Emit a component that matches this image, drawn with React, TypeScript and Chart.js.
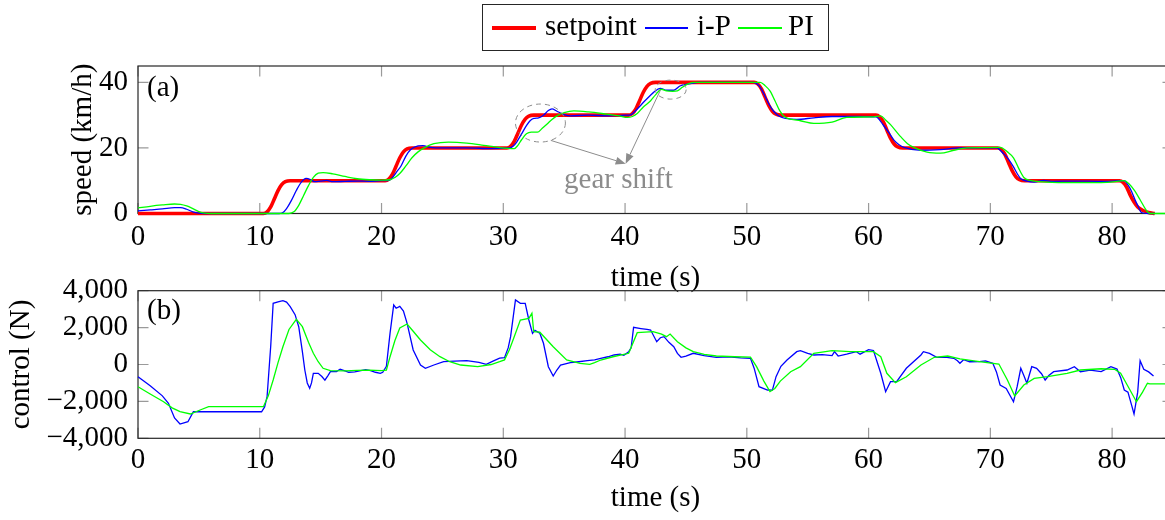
import { useEffect, useRef } from 'react';
import { Chart, registerables } from 'chart.js';

Chart.register(...registerables);

const FONT = "'Liberation Serif', 'Times New Roman', serif";
const GREY = '#8c8c8c';

// ---- tick values ----
const timeTicks = [0, 10, 20, 30, 40, 50, 60, 70, 80];
const speedTicks = [0, 20, 40];
const controlTicks = [-4000, -2000, 0, 2000, 4000];

// ---- labels ----
const legendLabels = ['setpoint', 'i-P', 'PI'];
const panelLabels = ['(a)', '(b)'];
const gearShiftLabel = 'gear shift';
const axisTitles = { time: 'time (s)', speed: 'speed (km/h)', control: 'control (N)' };

// ---- speed (km/h) vs time (s) ----
const setpointSpeed: [number, number][] = [
  [0, 0], [10.3, 0], [10.6, 0.5], [10.9, 2], [11.2, 4.5], [11.5, 7], [11.8, 8.8], [12.1, 9.7], [12.5, 10],
  [20.3, 10], [20.6, 10.5], [20.9, 12], [21.2, 14.5], [21.5, 17], [21.8, 18.8], [22.1, 19.7], [22.5, 20],
  [30.3, 20], [30.6, 20.5], [30.9, 22], [31.2, 24.5], [31.5, 27], [31.8, 28.8], [32.1, 29.7], [32.5, 30],
  [40.3, 30], [40.6, 30.5], [40.9, 32], [41.2, 34.5], [41.5, 37], [41.8, 38.8], [42.1, 39.7], [42.5, 40],
  [50.6, 40], [50.9, 39.5], [51.2, 38], [51.5, 35.5], [51.8, 33], [52.1, 31.2], [52.4, 30.3], [52.8, 30],
  [60.6, 30], [60.9, 29.5], [61.2, 28], [61.5, 25.5], [61.8, 23], [62.1, 21.2], [62.4, 20.3], [62.8, 20],
  [70.6, 20], [70.9, 19.5], [71.2, 18], [71.5, 15.5], [71.8, 13], [72.1, 11.2], [72.4, 10.3], [72.8, 10],
  [80.6, 10], [80.9, 9.5], [81.2, 8], [81.5, 5.5], [81.8, 3.5], [82.1, 2], [82.5, 1], [83, 0.3], [83.5, 0],
];

const ipSpeed: [number, number][] = [
  [0, 0.8], [1, 1.1], [2, 1.4], [3, 1.8], [3.5, 1.8], [4, 1.3], [4.5, 0.5], [5, 0.1], [5.5, 0],
  [11.6, 0], [11.9, 0.3], [12.2, 1.5], [12.6, 4], [13, 7], [13.4, 9.5], [13.8, 10.7], [14.2, 10.3], [14.5, 9.7],
  [15, 9.9], [15.5, 10.1], [16, 9.7], [17, 9.8], [18, 9.9], [19, 9.8], [20, 10], [20.5, 10],
  [20.8, 10.5], [21.2, 12.5], [21.6, 14.5], [22, 17.5], [22.4, 19.5], [23, 20.6], [23.4, 20.7], [24, 20.2],
  [25, 20], [27, 20], [29, 19.8], [30.5, 20],
  [30.8, 20.5], [31.1, 21.8], [31.5, 24.3], [31.9, 26.8], [32.2, 28.3], [32.5, 29], [32.9, 29.2], [33.3, 30],
  [33.7, 31.4], [34, 31.9], [34.4, 31.2], [35, 30.2], [35.5, 29.8], [37, 30], [38.5, 29.8], [40, 30], [40.5, 30.2],
  [40.9, 31.5], [41.4, 33.5], [41.8, 35], [42.3, 36.8], [42.9, 38.2], [43.4, 37.6], [44, 37.6], [44.5, 38.9],
  [45.4, 39.6], [46, 40], [48, 40], [50.5, 40],
  [51, 39], [51.4, 36.5], [51.8, 33.5], [52.2, 31.2], [52.7, 29.6], [53.2, 29], [54.1, 28.7], [55.5, 29.2],
  [57, 29.6], [59, 29.6], [60.6, 29.5],
  [61.2, 27], [61.7, 24.5], [62.1, 22.3], [62.5, 21], [62.9, 20.2], [64.3, 19.3], [65.9, 19.5], [67.5, 20], [70.5, 20],
  [71.1, 18.2], [71.5, 16.5], [71.9, 14.2], [72.2, 12.2], [72.5, 10.6], [73, 9.9], [73.6, 9.6], [74.4, 10.1],
  [75, 9.8], [77, 9.9], [79, 9.8], [81, 10],
  [81.3, 8.7], [81.6, 6.7], [81.9, 4], [82.2, 1.7], [82.4, 0.3], [83, 0], [83.5, 0],
];

const piSpeed: [number, number][] = [
  [0, 1.7], [1, 2.2], [2, 2.6], [3, 2.9], [3.5, 2.8], [4, 2.3], [4.5, 1.5], [5, 0.6], [5.5, 0.1], [6, 0],
  [12.4, 0], [12.8, 0.5], [13.2, 2.5], [13.6, 5.5], [14, 8.5], [14.4, 11], [14.8, 12.3], [15.2, 12.5], [16, 12.1],
  [17, 11.3], [18, 10.6], [19, 10.3], [20, 10.2], [20.7, 10.3],
  [21.1, 11], [21.5, 12.2], [22, 14.5], [22.5, 17], [23, 18.8], [23.5, 20], [24.3, 21.3], [25.5, 21.8], [27, 21.5],
  [28.4, 20.8], [29.7, 20.1], [30.9, 19.8],
  [31.2, 20.8], [31.5, 22.5], [31.9, 24.3], [32.3, 24.8], [32.8, 24.8], [33.2, 26], [33.6, 27.3], [34, 28.7],
  [34.4, 29.8], [35, 30.8], [35.8, 31.3], [37, 31], [38.5, 30.3], [39.5, 29.8], [40.2, 29.3],
  [40.6, 29.6], [41, 30.5], [41.5, 32.5], [42.1, 34.4], [42.5, 36.2], [43, 37.9], [43.4, 37.4], [43.9, 37.3],
  [44.3, 37.4], [44.7, 38.5], [45.1, 39.4], [45.6, 40], [47, 40], [50, 40], [51.1, 40],
  [51.5, 39], [51.9, 37.4], [52.3, 34.5], [52.7, 31.4], [53.1, 29.5], [53.6, 28.8], [54.4, 28.3], [55.5, 27.5],
  [57, 27.9], [58.2, 29.3], [60.4, 29.5], [61, 29.8],
  [61.4, 28.5], [61.8, 27.1], [62.5, 24], [63.2, 21.3], [63.8, 20], [64.8, 18.7], [65.9, 18.4], [67, 19.3],
  [68.1, 20], [70.8, 20.2],
  [71.4, 18.8], [71.9, 17], [72.3, 14], [72.75, 11], [73.3, 10.1], [74.6, 9.6], [76.9, 9.4], [79.6, 9.5], [81, 10],
  [81.4, 9], [81.8, 7.2], [82.3, 4.2], [82.8, 1], [83.1, 0], [85, 0],
];

// ---- control force (N) vs time (s) ----
const ipControl: [number, number][] = [
  [0, -660], [1, -1150], [2, -1700], [2.5, -2100], [3, -2900], [3.45, -3225], [4.1, -3100], [4.55, -2560],
  [5.1, -2560], [10.15, -2560], [10.4, -2300], [10.6, -1745], [10.9, 1000], [11.1, 3317], [11.5, 3400],
  [11.9, 3458], [12.2, 3380], [12.5, 3133], [12.9, 2700], [13.2, 2049], [13.5, 700], [13.7, -298], [13.9, -1000],
  [14.1, -1290], [14.25, -1000], [14.4, -477], [14.8, -480], [15.1, -650], [15.35, -850], [15.6, -600],
  [15.8, -390], [16.3, -380], [16.6, -260], [17, -350], [17.3, -420], [17.8, -400], [18.3, -330], [18.7, -280],
  [19.1, -330], [19.5, -420], [19.9, -480], [20.1, -420], [20.4, -100], [20.7, 1700], [21, 3225], [21.2, 3050],
  [21.5, 3150], [21.8, 2900], [22.1, 2233], [22.6, 786], [23.2, -27], [23.6, -206], [24.3, -27], [25.1, 152],
  [26, 180], [27, 206], [28, 120], [28.6, 10], [29.2, 200], [29.7, 342], [30.1, 370], [30.4, 900], [30.6, 1507],
  [31, 3496], [31.4, 3317], [31.8, 3317], [32.1, 2412], [32.4, 1691], [32.6, 1850], [33, 1691], [33.3, 1149],
  [33.7, -119], [34.1, -623], [34.4, -300], [34.7, -27], [35.5, 98], [36.2, 150], [36.9, 206], [37.5, 250],
  [38, 336], [38.6, 420], [39.1, 515], [39.6, 560], [39.9, 500], [40.3, 694], [40.5, 900], [40.7, 2016],
  [41.3, 1950], [41.8, 1900], [42.1, 1870], [42.6, 1236], [42.9, 1450], [43.2, 1507], [43.6, 1200], [44, 965],
  [44.3, 600], [44.6, 390], [45, 450], [45.6, 607], [46.5, 480], [47.5, 390], [48.5, 420], [49.5, 360],
  [50.3, 336], [50.6, -200], [51, -1203], [51.7, -1382], [52.1, -1390], [52.4, -661], [52.8, -100], [53.3, 244],
  [54.1, 694], [54.4, 748], [55, 600], [55.5, 515], [56.2, 530], [57, 480], [57.2, 700], [57.5, 460], [58.2, 560],
  [59, 694], [59.3, 560], [60, 802], [60.4, 760], [61, -477], [61.4, -1474], [61.8, -932], [62.3, -932],
  [63.1, -206], [64.3, 515], [64.5, 694], [65, 600], [65.6, 390], [66.3, 400], [67, 336], [67.3, 200], [67.5, 65],
  [67.8, 260], [68.3, 150], [69.1, 152], [69.6, 200], [70.2, 65], [70.5, -400], [70.8, -1111], [71.3, -1300],
  [71.9, -2016], [72.2, -1200], [72.5, -206], [72.75, -600], [73, -1019], [73.4, -119], [73.8, -206],
  [74.2, -500], [74.5, -840], [74.8, -600], [75.2, -390], [76.3, -298], [76.9, -119], [77.4, -390], [78.2, -300],
  [79.1, -390], [79.9, -119], [80.4, -250], [80.7, -700], [81, -1382], [81.3, -1500], [81.6, -2200],
  [81.8, -2683], [82.1, -1500], [82.3, 206], [82.6, -260], [83, -400], [83.4, -623],
];

const piControl: [number, number][] = [
  [0, -1203], [1, -1600], [2.1, -2016], [2.8, -2350], [3.45, -2558], [4.3, -2683], [5.1, -2466], [5.8, -2287],
  [10.3, -2287], [10.7, -1700], [11.1, -840], [11.5, 100], [11.9, 965], [12.4, 1900], [13, 2450], [13.5, 2049],
  [14, 1200], [14.4, 607], [14.8, 150], [15.2, -206], [15.8, -330], [17, -350], [18, -320], [19, -300],
  [20, -330], [20.4, -300], [20.7, 423], [21.1, 1300], [21.5, 1980], [22.1, 2195], [22.6, 1800], [23.2, 1328],
  [24, 800], [24.8, 423], [25.6, 150], [26.5, -27], [27.9, -119], [29, 0], [29.7, 152], [30.1, 250], [30.5, 800],
  [30.8, 1328], [31.4, 2412], [32.1, 2504], [32.35, 2775], [32.5, 1778], [33, 1750], [34.1, 965], [35.2, 244],
  [36.3, 65], [37.1, 10], [37.5, 100], [38, 244], [39, 420], [40.3, 607], [41, 1724], [42.3, 1778], [43, 1650],
  [43.4, 1507], [43.7, 1650], [44.3, 1236], [45, 900], [45.6, 694], [46.5, 550], [47.5, 460], [49, 420],
  [50.3, 400], [50.8, -119], [51.4, -900], [51.9, -1474], [52.3, -1300], [52.75, -900], [53.6, -390],
  [54.4, -119], [55.5, 607], [57, 748], [58.5, 694], [60.4, 694], [61, 423], [61.5, -477], [62.2, -986],
  [63.1, -661], [64.3, -27], [65.4, 390], [66.5, 460], [67.5, 300], [69.1, 152], [70.2, 65], [70.7, 27],
  [71.4, -840], [72, -1707], [72.75, -1111], [73.6, -750], [74.7, -661], [76.3, -477], [77.4, -298],
  [79.1, -230], [80.2, -260], [80.7, -477], [81.4, -1300], [82, -2016], [82.5, -1500], [82.9, -1019],
  [83.1, -1050], [85, -1050],
];

// ---- gear-shift annotation, in data units of panel (a) ----
const gearEllipses = [
  { t: 33.05, v: 27.6, rt: 2.05, rv: 5.8 },
  { t: 43.75, v: 37.8, rt: 1.27, rv: 2.9 },
];
const gearArrowTails: [number, number][] = [[33.9, 22.3], [42.9, 37.6]];
const gearArrowTip: [number, number] = [40.05, 15.2];
const gearLabelAt: [number, number] = [39.45, 7.7];

const COLORS = { setpoint: '#ff0000', ip: '#0000ff', pi: '#00ff00' };

const fmtNum = (v: number) => (v < 0 ? '\u2212' : '') + Math.abs(v).toLocaleString('en-US');

const TICK_LEN = 10.5;

function framePlugin(label: string, labelDy: number, gear: boolean) {
  return {
    id: 'frame',
    beforeDatasetsDraw(chart: any) {
      const { ctx, chartArea: a, scales } = chart;
      const x = scales.x;
      const y = scales.y;
      ctx.save();
      ctx.strokeStyle = '#9a9a9a';
      ctx.lineWidth = 1.2;
      ctx.beginPath();
      for (const t of x.ticks) {
        const px = x.getPixelForValue(t.value);
        ctx.moveTo(px, a.top);
        ctx.lineTo(px, a.top + TICK_LEN);
        ctx.moveTo(px, a.bottom);
        ctx.lineTo(px, a.bottom - TICK_LEN);
      }
      for (const t of y.ticks) {
        const py = y.getPixelForValue(t.value);
        ctx.moveTo(a.left, py);
        ctx.lineTo(a.left + TICK_LEN, py);
        ctx.moveTo(a.right, py);
        ctx.lineTo(a.right - TICK_LEN, py);
      }
      ctx.stroke();
      ctx.strokeStyle = '#262626';
      ctx.lineWidth = 1.2;
      ctx.strokeRect(a.left, a.top, a.right - a.left, a.bottom - a.top);
      ctx.restore();
    },
    afterDatasetsDraw(chart: any) {
      const { ctx, chartArea: a, scales } = chart;
      const x = scales.x;
      const y = scales.y;
      ctx.save();
      ctx.font = `29px ${FONT}`;
      ctx.fillStyle = '#000';
      ctx.textAlign = 'left';
      ctx.textBaseline = 'alphabetic';
      ctx.fillText(label, a.left + 9, a.top + labelDy);
      if (gear) {
        ctx.strokeStyle = GREY;
        ctx.fillStyle = GREY;
        ctx.lineWidth = 1;
        ctx.setLineDash([5, 4]);
        for (const e of gearEllipses) {
          const cx = x.getPixelForValue(e.t);
          const cy = y.getPixelForValue(e.v);
          const rx = Math.abs(x.getPixelForValue(e.t + e.rt) - cx);
          const ry = Math.abs(y.getPixelForValue(e.v + e.rv) - cy);
          ctx.beginPath();
          ctx.ellipse(cx, cy, rx, ry, 0, 0, Math.PI * 2);
          ctx.stroke();
        }
        ctx.setLineDash([]);
        const tx = x.getPixelForValue(gearArrowTip[0]);
        const ty = y.getPixelForValue(gearArrowTip[1]);
        for (const [t0, v0] of gearArrowTails) {
          const sx = x.getPixelForValue(t0);
          const sy = y.getPixelForValue(v0);
          const ang = Math.atan2(ty - sy, tx - sx);
          const L = 10;
          const W = 4;
          const bx = tx - L * Math.cos(ang);
          const by = ty - L * Math.sin(ang);
          ctx.beginPath();
          ctx.moveTo(sx, sy);
          ctx.lineTo(bx, by);
          ctx.stroke();
          ctx.beginPath();
          ctx.moveTo(tx, ty);
          ctx.lineTo(bx + W * Math.sin(ang), by - W * Math.cos(ang));
          ctx.lineTo(bx - W * Math.sin(ang), by + W * Math.cos(ang));
          ctx.closePath();
          ctx.fill();
        }
        ctx.textAlign = 'center';
        ctx.fillText(gearShiftLabel, x.getPixelForValue(gearLabelAt[0]), y.getPixelForValue(gearLabelAt[1]));
      }
      ctx.restore();
    },
  };
}

function lineDs(label: string, pts: [number, number][], color: string, width: number, order: number, smooth: boolean) {
  return {
    label,
    data: pts.map(([x, y]) => ({ x, y })),
    borderColor: color,
    backgroundColor: color,
    borderWidth: width,
    pointRadius: 0,
    fill: false,
    order,
    clip: false,
    tension: 0,
    cubicInterpolationMode: smooth ? 'monotone' : 'default',
  };
}

const font29 = { family: FONT, size: 29 };

function xScale(tickPad: number, height: number) {
  return {
    type: 'linear',
    min: 0,
    max: 85,
    afterBuildTicks: (s: any) => {
      s.ticks = timeTicks.map((v) => ({ value: v }));
    },
    afterFit: (s: any) => {
      s.height = height;
    },
    grid: { display: false, drawTicks: false },
    border: { display: false },
    ticks: { padding: tickPad, color: '#000', font: font29, maxRotation: 0, minRotation: 0, autoSkip: false, callback: (v: number) => String(v) },
    title: { display: true, text: axisTitles.time, color: '#000', font: font29, padding: 0 },
  };
}

function yScale(min: number, max: number, ticks: number[], width: number, title: string) {
  return {
    type: 'linear',
    min,
    max,
    afterBuildTicks: (s: any) => {
      s.ticks = ticks.map((v) => ({ value: v }));
    },
    afterFit: (s: any) => {
      s.width = width;
    },
    grid: { display: false, drawTicks: false },
    border: { display: false },
    ticks: { padding: 10, color: '#000', font: font29, autoSkip: false, callback: (v: number) => fmtNum(v) },
    title: { display: true, text: title, color: '#000', font: font29, padding: 0 },
  };
}

// bottom canvas placement (page px)
const BOT_TOP = 263;
const BOT_H = 257;

export default function App() {
  const topRef = useRef<HTMLCanvasElement | null>(null);
  const botRef = useRef<HTMLCanvasElement | null>(null);

  useEffect(() => {
    const common = {
      responsive: false,
      animation: false,
      events: [],
      plugins: { legend: { display: false }, tooltip: { enabled: false }, title: { display: false } },
    };
    const top = new Chart(topRef.current as HTMLCanvasElement, {
      type: 'line',
      data: {
        datasets: [
          lineDs(legendLabels[0], setpointSpeed, COLORS.setpoint, 3.6, 2, true),
          lineDs(legendLabels[1], ipSpeed, COLORS.ip, 1.3, 1, true),
          lineDs(legendLabels[2], piSpeed, COLORS.pi, 1.3, 0, true),
        ],
      } as any,
      options: {
        ...common,
        layout: { padding: { left: 66, top: 66, right: 17, bottom: 4.6 } },
        scales: {
          x: xScale(6, 81.9),
          y: yScale(0, 45, speedTicks, 72, axisTitles.speed),
        },
      } as any,
      plugins: [framePlugin(panelLabels[0], 30, true)],
    });
    // chart area wanted at page y 290.7 .. 438.3; x-title middle at ~498
    const areaTop = 290.7 - BOT_TOP;
    const areaBottom = 438.3 - BOT_TOP;
    const scaleBottom = 498 - BOT_TOP + 17.4;
    const bot = new Chart(botRef.current as HTMLCanvasElement, {
      type: 'line',
      data: {
        datasets: [
          lineDs(legendLabels[1], ipControl, COLORS.ip, 1.3, 1, false),
          lineDs(legendLabels[2], piControl, COLORS.pi, 1.3, 0, false),
        ],
      } as any,
      options: {
        ...common,
        layout: { padding: { left: 4, top: areaTop, right: 17, bottom: BOT_H - scaleBottom } },
        scales: {
          x: xScale(5, scaleBottom - areaBottom),
          y: yScale(-4000, 4000, controlTicks, 134, axisTitles.control),
        },
      } as any,
      plugins: [framePlugin(panelLabels[1], 28.5, false)],
    });
    return () => {
      top.destroy();
      bot.destroy();
    };
  }, []);

  const textStyle = {
    position: 'absolute' as const,
    top: 10.5,
    fontFamily: FONT,
    fontSize: 29,
    lineHeight: '29px',
    color: '#000',
    whiteSpace: 'nowrap' as const,
  };
  const swatch = (left: number, width: number, color: string, thick: number, top: number) => ({
    position: 'absolute' as const,
    left,
    width,
    top,
    height: thick,
    background: color,
  });

  return (
    <div style={{ position: 'absolute', left: 0, top: 0, width: 1165, height: 520, overflow: 'hidden', background: '#fff' }}>
      <canvas ref={topRef} width={1190} height={300} style={{ position: 'absolute', left: 0, top: 0 }} />
      <canvas ref={botRef} width={1190} height={BOT_H} style={{ position: 'absolute', left: 0, top: BOT_TOP }} />
      <div style={{ position: 'absolute', left: 482, top: 4, width: 347, height: 47, border: '1.2px solid #262626', boxSizing: 'border-box' }} />
      <div style={swatch(492, 44, COLORS.setpoint, 4, 26)} />
      <span style={{ ...textStyle, left: 545 }}>{legendLabels[0]}</span>
      <div style={swatch(645, 43, COLORS.ip, 1.5, 27)} />
      <span style={{ ...textStyle, left: 697 }}>{legendLabels[1]}</span>
      <div style={swatch(738, 44, COLORS.pi, 1.5, 27)} />
      <span style={{ ...textStyle, left: 788 }}>{legendLabels[2]}</span>
    </div>
  );
}
